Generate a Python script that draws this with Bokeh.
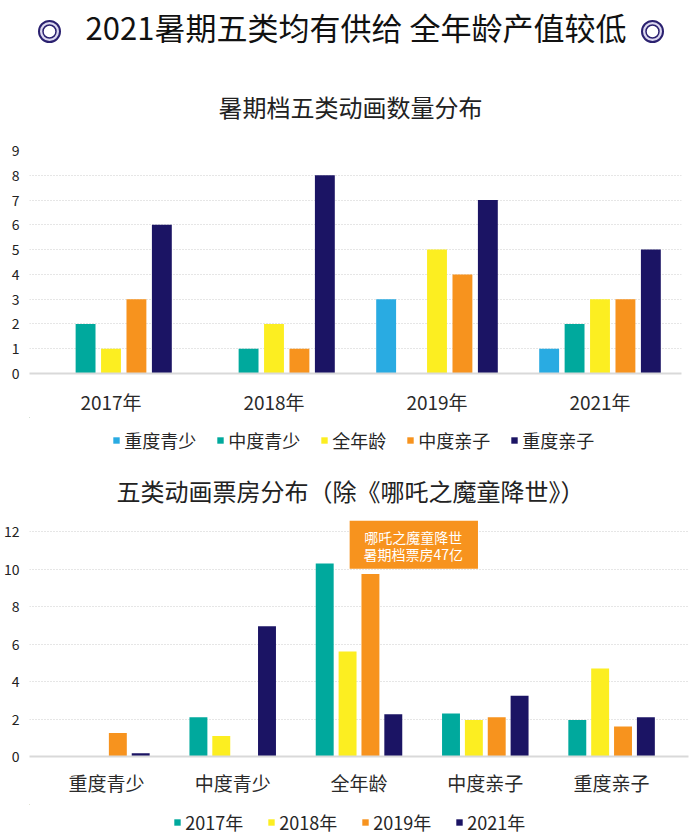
from bokeh.plotting import figure
from bokeh.layouts import column
from bokeh.models import (FactorRange, Range1d, FixedTicker, Legend, LegendItem,
                          ColumnDataSource)
from bokeh.transform import dodge
from bokeh.core.properties import value
from bokeh.embed import file_html
from bokeh.resources import INLINE

FONT = "Noto Sans CJK SC"

main_title = "2021暑期五类均有供给 全年龄产值较低"
title1 = "暑期档五类动画数量分布"
title2 = "五类动画票房分布（除《哪吒之魔童降世》）"
note_lines = ["哪吒之魔童降世", "暑期档票房47亿"]

# chart 1: number of films per type, by year
years1 = ["2017年", "2018年", "2019年", "2021年"]
types1 = ["重度青少", "中度青少", "全年龄", "中度亲子", "重度亲子"]
heavy_youth = [0, 0, 3, 1]
mid_youth = [2, 1, 0, 2]
all_age = [1, 2, 5, 3]
mid_family = [3, 1, 4, 3]
heavy_family = [6, 8, 7, 5]
colors1 = ["#29ABE2", "#00A99D", "#FCEE21", "#F7931E", "#1B1464"]

# chart 2: box office per type (亿), by year
cats2 = ["重度青少", "中度青少", "全年龄", "中度亲子", "重度亲子"]
years2 = ["2017年", "2018年", "2019年", "2021年"]
box_2017 = [0, 2.1, 10.3, 2.3, 1.95]
box_2018 = [0, 1.1, 5.6, 1.95, 4.7]
box_2019 = [1.25, 0, 9.75, 2.1, 1.6]
box_2021 = [0.18, 6.95, 2.25, 3.25, 2.1]
colors2 = ["#00A99D", "#FCEE21", "#F7931E", "#1B1464"]

LEFT = 28          # common left border (column aligns the frames)
NAVY_RING = "#2B2170"


def text_fig(top, bottom, frame_w=660):
    """A blank panel whose data coordinates equal page pixels."""
    f = figure(frame_width=frame_w, frame_height=bottom - top,
               x_range=Range1d(LEFT, LEFT + frame_w), y_range=Range1d(bottom, top),
               x_axis_type=None, y_axis_type=None, toolbar_location=None,
               output_backend="svg", min_border=0, min_border_left=LEFT,
               min_border_right=0, min_border_top=0, min_border_bottom=0)
    f.outline_line_color = None
    return f


def style_axes(p, ticks, standoff_x):
    p.outline_line_color = None
    p.xgrid.visible = False
    p.ygrid.grid_line_color = "#cccccc"
    p.ygrid.grid_line_dash = "1 2"
    p.ygrid.grid_line_width = 1.2
    p.yaxis.ticker = FixedTicker(ticks=ticks)
    p.yaxis.axis_line_color = None
    p.yaxis.major_tick_line_color = None
    p.yaxis.minor_tick_line_color = None
    p.yaxis.major_tick_out = 0
    p.yaxis.major_tick_in = 0
    p.yaxis.minor_tick_out = 0
    p.yaxis.major_label_text_font = FONT
    p.yaxis.major_label_text_font_size = "14px"
    p.yaxis.major_label_text_color = "#222222"
    p.yaxis.major_label_standoff = 10
    p.xaxis.axis_line_color = "#d9d9d9"
    p.xaxis.axis_line_width = 2
    p.xaxis.major_tick_line_color = None
    p.xaxis.minor_tick_line_color = None
    p.xaxis.major_tick_out = 0
    p.xaxis.major_tick_in = 0
    p.xaxis.minor_tick_out = 0
    p.xaxis.major_label_text_font = FONT
    p.xaxis.major_label_text_font_size = "19px"
    p.xaxis.major_label_text_color = "#2a2a2a"
    p.xaxis.major_label_standoff = standoff_x


def legend_fig(top, bottom, margin, names, colors, spacing):
    f = text_fig(top, bottom, 660)
    items = []
    for name, c in zip(names, colors):
        r = f.vbar(x=[-100], top=[1], width=1, fill_color=c, line_color=None)
        items.append(LegendItem(label=name, renderers=[r]))
    leg = Legend(items=items, orientation="horizontal", location="center_left",
                 label_text_font=FONT, label_text_font_size="18px",
                 label_text_color="#262626", glyph_width=8, glyph_height=8,
                 label_standoff=4, spacing=spacing, padding=0, margin=margin,
                 border_line_color=None, background_fill_alpha=0)
    f.add_layout(leg, "center")
    return f


# ---- header (page 0..130) ----
head = text_fig(0, 130)
head.circle(x=[48, 651], y=[31, 31], radius=10.5, fill_color="#DCD8F0",
            line_color=NAVY_RING, line_width=2)
head.circle(x=[48, 651], y=[31, 31], radius=6.5, fill_color="#FFFFFF",
            line_color=NAVY_RING, line_width=1.5)
head.text(x=[354.5], y=[26], text=[main_title], text_font=value(FONT),
          text_font_size="31px", text_align="center", text_baseline="middle",
          text_color="#111111")
head.text(x=[349], y=[106], text=[title1], text_font=value(FONT),
          text_font_size="24px", text_align="center", text_baseline="middle",
          text_color="#222222")

# ---- chart 1 (page 130..417, frame 150..373) ----
src1 = ColumnDataSource(dict(year=years1, heavy_youth=heavy_youth, mid_youth=mid_youth,
                             all_age=all_age, mid_family=mid_family,
                             heavy_family=heavy_family))
p1 = figure(frame_width=652, frame_height=223, x_range=FactorRange(*years1),
            y_range=Range1d(0, 9), toolbar_location=None, output_backend="svg",
            min_border_left=LEFT, min_border_right=5, min_border_top=20,
            min_border_bottom=44)
style_axes(p1, list(range(10)), 14)
keys1 = ["heavy_youth", "mid_youth", "all_age", "mid_family", "heavy_family"]
for i, (k, c) in enumerate(zip(keys1, colors1)):
    off = (i - 2) * 0.156
    p1.vbar(x=dodge("year", off, range=p1.x_range), top=k, width=0.122,
            source=src1, fill_color=c, line_color=None)

leg1 = legend_fig(417, 462, 103, types1, colors1, 20)

# ---- header 2 (page 462..520) ----
head2 = text_fig(462, 520)
head2.text(x=[349], y=[490], text=[title2], text_font=value(FONT),
           text_font_size="24px", text_align="center", text_baseline="middle",
           text_color="#222222")

# ---- chart 2 (page 520..804, frame 520..756) ----
src2 = ColumnDataSource(dict(cat=cats2, y2017=box_2017, y2018=box_2018,
                             y2019=box_2019, y2021=box_2021))
p2 = figure(frame_width=659, frame_height=236,
            x_range=FactorRange(*cats2, range_padding=0.109,
                                range_padding_units="absolute"),
            y_range=Range1d(0, 12.6), toolbar_location=None, output_backend="svg",
            min_border_left=LEFT, min_border_right=5, min_border_top=0,
            min_border_bottom=48)
style_axes(p2, list(range(0, 13, 2)), 12)
keys2 = ["y2017", "y2018", "y2019", "y2021"]
for i, (k, c) in enumerate(zip(keys2, colors2)):
    off = (i - 1.5) * 0.181
    p2.vbar(x=dodge("cat", off, range=p2.x_range), top=k, width=0.142,
            source=src2, fill_color=c, line_color=None)

# annotation box
p2.quad(left=[2.426], right=[3.442], bottom=[10.02], top=[12.6],
        fill_color="#F7931E", line_color=None)
p2.text(x=[2.93, 2.93], y=[11.71, 10.82], text=note_lines, text_font=value(FONT),
        text_font_size="14px", text_align="center", text_baseline="middle",
        text_color="#FFFFFF")

leg2 = legend_fig(804, 840, 164, years2, colors2, 24)

layout = column(head, p1, leg1, head2, p2, leg2)
open("out.html", "w").write(file_html(layout, INLINE))
